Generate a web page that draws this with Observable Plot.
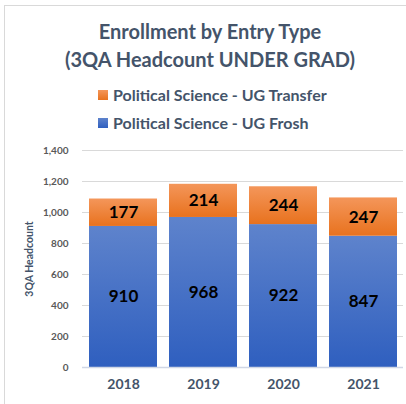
<!DOCTYPE html>
<html>
<head>
<meta charset="utf-8">
<script src="https://cdn.jsdelivr.net/npm/d3@7"></script>
<script src="https://cdn.jsdelivr.net/npm/@observablehq/plot@0.6"></script>
<style>
  html, body { margin: 0; padding: 0; background: #fff; }
  body { width: 406px; height: 404px; position: relative; overflow: hidden; font-family: Lato, "Open Sans", sans-serif; }
  #frame { position: absolute; left: 4px; top: 5px; width: 440px; height: 440px; border: 1px solid #D9D9D9; box-sizing: border-box; }
  .title { position: absolute; left: 0; width: 420px; text-align: center; font-weight: 700; font-size: 20px; color: #44546A; white-space: nowrap; }
  .leg { position: absolute; left: 98px; font-weight: 700; font-size: 16px; color: #44546A; white-space: nowrap; display: flex; align-items: center; }
  .sw { width: 10px; height: 10px; margin-right: 5px; }
  #chart { position: absolute; left: 0; top: 135px; }
</style>
</head>
<body>
<div id="frame"></div>
<div class="title" style="top:19px">Enrollment by Entry Type</div>
<div class="title" style="top:47px">(3QA Headcount UNDER GRAD)</div>
<div class="leg" style="top:85px"><div class="sw" style="background:linear-gradient(#F4965A,#E8721E)"></div>Political Science - UG Transfer</div>
<div class="leg" style="top:113px"><div class="sw" style="background:linear-gradient(#5E83CC,#2F5FBF)"></div>Political Science - UG Frosh</div>
<div id="chart"></div>
<script>
const years = ["2018", "2019", "2020", "2021"];
const frosh = [910, 968, 922, 847];
const transfer = [177, 214, 244, 247];
const seriesNames = ["Political Science - UG Frosh", "Political Science - UG Transfer"];
const yTicks = [0, 200, 400, 600, 800, 1000, 1200, 1400];

const data = [];
years.forEach((y, i) => data.push({year: y, series: seriesNames[0], value: frosh[i]}));
years.forEach((y, i) => data.push({year: y, series: seriesNames[1], value: transfer[i]}));

const plot = Plot.plot({
  width: 406,
  height: 269,
  marginLeft: 82,
  marginRight: 3,
  marginTop: 15,
  marginBottom: 37,
  style: {fontFamily: "Lato, 'Open Sans', sans-serif", background: "transparent"},
  x: {domain: years, paddingInner: 0.155, paddingOuter: 0.07, label: null, tickSize: 0, tickPadding: 12},
  y: {domain: [0, 1400], ticks: yTicks, label: null, tickSize: 0, tickPadding: 14, tickFormat: d3.format(",")},
  color: {domain: seriesNames, range: ["url(#gBlue)", "url(#gOrange)"]},
  marks: [
    Plot.gridY(yTicks, {stroke: "#D9D9D9", strokeOpacity: 1}),
    Plot.barY(data, Plot.stackY({x: "year", y: "value", fill: "series", z: "series", order: seriesNames, inset: 0})),
    Plot.ruleY([0], {stroke: "#D0D7E5", strokeWidth: 1.5}),
    Plot.textY(data, Plot.stackY({x: "year", y: "value", z: "series", order: seriesNames, text: d => String(d.value), fill: "#000", fontSize: 17, fontWeight: 700})),
    Plot.axisY({ticks: yTicks, tickSize: 0, tickPadding: 14, tickFormat: d3.format(","), fontSize: 10, fontWeight: 700, fill: "#595959", label: null}),
    Plot.axisX({tickSize: 0, tickPadding: 12, fontSize: 14, fontWeight: 700, fill: "#44546A", label: null}),
    Plot.text(["3QA Headcount"], {frameAnchor: "left", dx: -53, rotate: -90, fontSize: 10.5, fontWeight: 700, fill: "#44546A", textAnchor: "middle"})
  ]
});

const svg = d3.select(plot);
const defs = svg.insert("defs", ":first-child");
const go = defs.append("linearGradient").attr("id", "gOrange").attr("x1", 0).attr("y1", 0).attr("x2", 0).attr("y2", 1);
go.append("stop").attr("offset", "0%").attr("stop-color", "#F4965A");
go.append("stop").attr("offset", "100%").attr("stop-color", "#E8721E");
const gb = defs.append("linearGradient").attr("id", "gBlue").attr("x1", 0).attr("y1", 0).attr("x2", 0).attr("y2", 1);
gb.append("stop").attr("offset", "0%").attr("stop-color", "#5E83CC");
gb.append("stop").attr("offset", "100%").attr("stop-color", "#2F5FBF");

document.getElementById("chart").appendChild(plot);
</script>
</body>
</html>
